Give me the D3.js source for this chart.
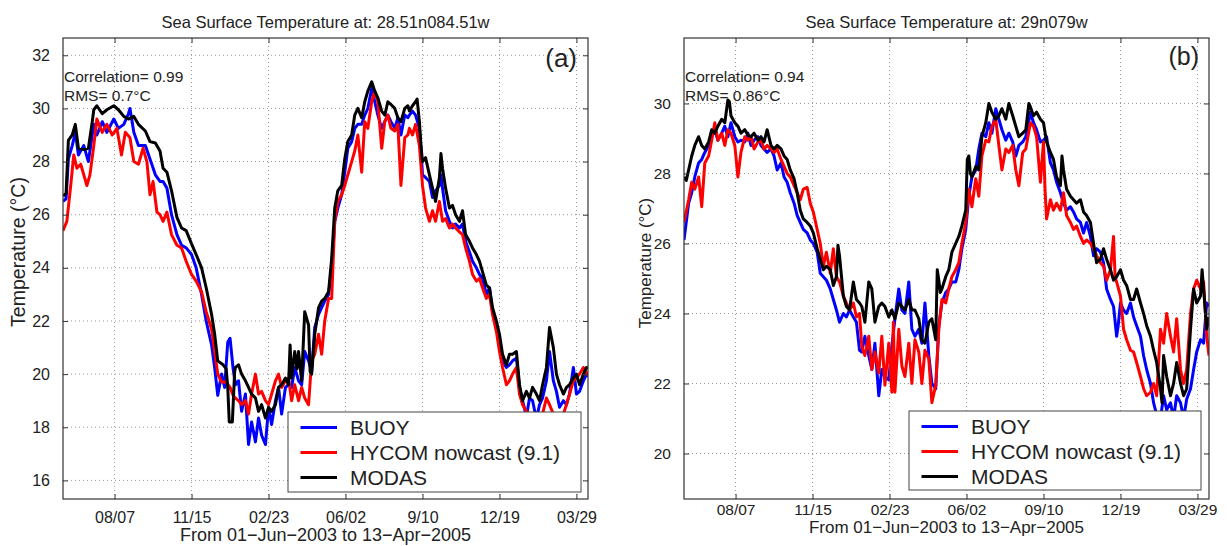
<!DOCTYPE html>
<html><head><meta charset="utf-8">
<script src="https://cdn.jsdelivr.net/npm/d3@7"></script>
<style>body{margin:0;background:#fff;} svg{display:block;font-family:"Liberation Sans",Arial,Helvetica,sans-serif;}</style>
</head><body><svg id="c" width="1227" height="546"></svg>
<script>
// ---- data (day offset from 01-Jun-2003, SST in degC) ----
const tickDays = [67, 167, 267, 367, 467, 567, 667];
const tickLabelsA = ["08/07", "11/15", "02/23", "06/02", "9/10", "12/19", "03/29"];
const tickLabelsB = ["08/07", "11/15", "02/23", "06/02", "09/10", "12/19", "03/29"];
const yTicksA = [16, 18, 20, 22, 24, 26, 28, 30, 32];
const yTicksB = [20, 22, 24, 26, 28, 30];
const seriesNames = ["BUOY", "HYCOM nowcast (9.1)", "MODAS"];
const seriesColors = ["#0000ff", "#ff0000", "#000000"];

const buoyA = [[0,26.5],[4,26.6],[7,28.1],[12,28.6],[16,29.1],[20,28.25],[27,28.6],[33,28.0],[40,29.4],[44,29.0],[51,29.5],[57,29.1],[66,29.6],[72,29.25],[79,29.4],[85,29.8],[87,30.0],[92,29.1],[98,28.6],[107,28.6],[113,28.1],[120,27.5],[126,27.25],[130,27.25],[135,27.0],[141,26.0],[148,25.25],[154,24.85],[160,24.75],[167,24.5],[173,24.0],[180,23.0],[186,22.0],[193,21.1],[197,20.25],[201,19.2],[206,20.0],[210,19.5],[214,21.2],[217,21.35],[221,20.2],
[224,19.6],[228,19.75],[232,18.6],[237,19.25],[241,17.35],[245,18.2],[250,17.45],[254,18.35],[258,17.7],[263,17.35],[267,18.75],[271,18.1],[276,19.0],[280,19.5],[284,18.5],[289,19.5],[293,19.6],[297,19.5],[301,20.25],[306,19.75],[310,19.6],[314,20.85],[319,20.5],[323,20.1],[327,21.75],[332,22.25],[336,22.5],[340,22.75],[345,23.0],[349,24.0],[353,25.75],[357,26.25],[362,26.75],[366,27.6],[370,28.5],[375,28.75],[379,29.25],[383,29.4],[388,29.4],[392,29.75],[396,30.0],[401,30.75],[405,30.25],[409,29.75],[414,29.25],[418,29.5],[422,29.75],[426,29.5],[431,29.25],[435,29.65],[439,29.0],[444,29.75],[448,29.65],
[450,29.75],[454,29.9],[458,29.75],[463,29.25],[465,28.5],[467,27.5],[471,27.4],[476,27.25],[480,26.65],[484,26.9],[489,27.1],[491,27.5],[493,27.0],[497,26.15],[502,25.75],[506,25.5],[510,25.65],[515,25.5],[519,25.65],[523,25.0],[528,24.6],[532,24.25],[537,24.0],[541,23.75],[545,23.6],[550,23.0],[554,23.25],[558,22.35],[563,21.75],[567,21.25],[571,20.5],[576,20.25],[580,20.35],[584,20.5],[589,20.6],[593,19.5],[597,19.0],[602,18.4],[606,19.1],[610,19.0],[615,18.3],[619,18.85],[623,19.1],[628,19.75],[632,20.85],[637,19.75],[641,19.35],[645,18.75],[650,19.0],[654,18.85],[658,19.25],[663,20.25],[667,19.25],[671,19.35],[676,19.75],[680,20.0],[682,19.9]];

const hycomA = [[0,25.4],[5,25.75],[10,27.1],[14,28.25],[18,27.75],[23,27.9],[27,27.5],[31,27.1],[35,27.5],[40,28.6],[44,29.6],[51,29.1],[57,29.4],[64,29.0],[70,29.25],[76,28.25],[81,29.1],[87,28.9],[92,28.0],[98,27.9],[104,28.5],[109,28.0],[113,26.75],[117,27.25],[122,26.1],[126,26.0],[130,25.75],[135,26.1],[141,25.25],[148,24.85],[154,24.75],[160,24.25],[167,23.75],[173,23.5],[180,23.1],[186,22.35],[193,21.7],[197,20.85],[201,20.0],[206,19.7],[212,19.7],[217,19.5],[221,19.2],
[224,19.1],[228,19.0],[232,18.85],[237,19.0],[241,18.5],[245,19.25],[250,20.0],[254,19.25],[258,19.35],[263,19.0],[267,18.85],[271,19.25],[276,19.75],[280,20.0],[284,19.5],[289,19.75],[293,19.85],[297,19.0],[301,19.6],[306,19.0],[310,19.5],[314,19.1],[319,18.85],[323,20.5],[327,20.75],[332,21.5],[336,20.75],[340,22.0],[345,22.85],[349,22.85],[353,25.75],[357,26.5],[362,26.75],[366,27.1],[370,27.5],[375,28.0],[379,28.4],[383,29.0],[388,27.6],[392,29.5],[396,29.25],[401,30.25],[405,30.65],[409,30.25],[414,28.5],[418,29.5],[422,29.75],[426,29.25],[431,29.15],[435,29.4],[439,27.1],[444,28.9],[448,29.0],
[450,29.25],[454,29.0],[458,29.4],[463,28.6],[467,27.1],[471,26.25],[476,25.75],[480,26.15],[484,25.75],[489,26.5],[493,25.75],[497,25.85],[502,25.5],[506,25.65],[510,25.5],[515,25.35],[519,25.25],[523,24.75],[528,24.25],[532,23.75],[537,23.5],[541,23.6],[545,23.25],[550,22.85],[554,23.0],[558,22.25],[563,21.6],[567,20.85],[571,20.25],[576,19.6],[580,19.75],[584,20.0],[589,20.25],[593,19.25],[597,18.85],[602,18.6],[606,18.5],[610,18.45],[615,18.5],[619,18.4],[623,18.5],[628,19.1],[632,18.85],[637,18.5],[641,18.4],[645,18.4],[650,18.5],[654,18.85],[658,19.25],[663,19.75],[667,19.85],[671,20.0],[676,20.25],[680,20.0],[682,20.1]];

const modasA = [[0,26.7],[4,26.8],[7,28.8],[12,29.0],[16,29.4],[20,28.5],[27,28.45],[33,28.5],[38,29.5],[40,29.95],[44,30.1],[51,29.8],[57,29.95],[66,30.1],[72,29.95],[79,29.7],[85,29.6],[92,29.7],[98,29.4],[107,29.15],[113,28.75],[120,28.7],[126,28.4],[130,27.75],[135,27.6],[141,26.9],[148,25.9],[154,25.5],[160,25.4],[167,24.9],[173,24.5],[180,24.0],[186,23.25],[193,22.25],[197,21.5],[201,20.5],[208,20.35],[212,20.2],[214,19.5],[216,18.2],[220,18.2],[223,20.1],
[224,20.25],[228,20.35],[232,20.0],[237,19.75],[241,19.5],[245,19.25],[250,19.1],[254,18.6],[258,18.85],[263,18.35],[267,18.75],[271,18.6],[276,18.85],[280,19.5],[284,19.6],[289,19.85],[293,19.6],[295,21.1],[297,19.85],[301,20.85],[304,20.2],[306,20.85],[310,19.75],[314,22.35],[319,21.85],[321,20.1],[323,20.0],[327,21.5],[332,22.5],[336,22.75],[340,22.85],[345,23.1],[349,24.35],[353,26.25],[357,26.9],[362,27.1],[366,28.1],[370,28.75],[375,29.0],[379,29.75],[383,30.0],[388,29.65],[392,30.25],[396,30.65],[401,31.0],[405,30.65],[409,30.4],[414,29.9],[418,29.75],[422,30.25],[426,30.15],[431,30.0],[435,29.65],[439,29.5],[444,30.0],[448,30.1],
[450,29.9],[454,30.1],[458,30.25],[460,30.35],[463,29.5],[465,28.6],[467,28.0],[471,28.15],[476,27.5],[480,27.0],[484,26.5],[489,27.4],[491,28.3],[493,27.75],[497,27.0],[502,26.25],[506,26.35],[510,26.0],[515,25.75],[519,26.15],[523,25.25],[528,25.0],[532,24.75],[537,24.5],[541,24.25],[545,23.85],[550,23.35],[554,23.25],[558,22.5],[563,22.0],[567,21.5],[571,20.75],[576,20.35],[580,20.75],[584,20.75],[589,20.85],[593,19.6],[597,19.0],[602,19.35],[606,19.1],[610,19.5],[615,19.25],[619,19.0],[623,19.6],[628,20.25],[632,21.75],[637,21.0],[641,20.0],[645,19.6],[650,19.25],[654,19.5],[658,19.6],[663,19.85],[667,20.0],[671,19.6],[676,20.0],[680,20.25],[682,20.2]];

const buoyB = [[0,26.1],[6,27.15],[10,27.45],[14,27.9],[19,28.3],[23,28.4],[27,28.6],[32,28.8],[36,29.05],[40,29.25],[44,28.95],[49,29.15],[53,29.35],[57,29.05],[61,29.45],[66,29.05],[70,28.9],[74,28.95],[79,28.9],[83,29.15],[87,28.8],[91,28.95],[96,29.05],[100,28.8],[104,28.7],[108,28.6],[113,28.7],[117,28.5],[121,28.1],[126,28.3],[130,27.9],[134,27.75],[138,27.45],[143,27.15],[147,26.8],[151,26.6],[155,26.4],[160,26.3],[164,26.1],[168,26.0],[173,25.75],[177,25.15],[181,25.05],[185,24.95],[190,24.7],[194,24.4],[198,24.1],[202,23.75],[207,24.0],[211,23.9],[215,24.1],[220,23.9],[224,23.75],[228,22.95],
[231,22.9],[235,23.35],[240,22.8],[244,22.4],[248,23.15],[253,21.65],[257,22.4],[261,22.2],[266,22.1],[270,23.05],[274,23.85],[279,24.7],[283,24.1],[287,24.0],[292,24.9],[296,23.55],[300,23.35],[305,23.55],[309,23.15],[313,24.3],[318,22.8],[322,22.0],[327,21.85],[331,23.65],[335,24.3],[340,24.6],[344,24.7],[348,24.9],[353,24.9],[357,25.25],[361,25.85],[366,26.4],[370,27.35],[374,27.9],[379,28.1],[383,28.7],[387,29.15],[392,29.05],[396,29.45],[400,29.15],[405,29.85],[409,29.55],[413,29.25],[418,28.95],[422,29.15],[427,28.9],[431,28.5],[435,28.8],[440,28.9],[444,29.05],
[450,29.75],[454,29.45],[458,29.25],[463,28.9],[467,28.95],[471,29.05],[476,28.3],[480,28.1],[484,27.75],[489,27.45],[493,27.15],[497,26.95],[502,27.05],[506,26.9],[510,26.7],[515,26.6],[519,26.3],[523,26.6],[528,26.2],[532,25.65],[536,25.85],[541,25.75],[545,25.45],[549,24.7],[554,24.4],[558,24.2],[562,23.35],[564,23.65],[567,24.3],[571,24.1],[575,24.0],[580,24.3],[584,23.9],[588,23.65],[593,23.35],[597,22.8],[601,22.4],[606,22.0],[610,21.45],[614,21.1],[619,21.0],[623,21.65],[627,21.25],[632,21.45],[636,21.0],[640,21.65],[645,21.45],[649,21.0],[653,21.55],[658,21.85],[662,22.4],[666,22.9],[671,23.25],[675,23.15],[679,24.3],[682,24.2]];

const hycomB = [[0,26.6],[6,27.25],[10,27.75],[14,27.55],[19,27.9],[23,27.05],[27,28.3],[32,28.5],[36,28.95],[40,29.45],[44,28.95],[49,29.15],[53,28.8],[57,29.25],[61,29.15],[66,28.8],[70,27.9],[74,28.6],[79,29.05],[83,28.95],[87,29.05],[91,28.7],[96,28.9],[100,28.95],[104,28.7],[108,28.8],[113,28.7],[117,28.6],[121,28.7],[126,28.4],[130,28.2],[134,28.0],[138,27.9],[143,27.65],[147,27.45],[151,27.25],[155,27.55],[160,27.6],[164,27.15],[168,26.9],[173,26.4],[177,26.0],[181,25.35],[185,25.75],[190,25.15],[194,25.85],[198,25.05],[202,24.9],[207,24.5],[211,24.3],[215,24.1],[220,24.3],[224,23.9],[228,24.0],
[231,23.05],[235,22.8],[240,23.35],[244,22.4],[248,22.9],[253,22.3],[257,23.35],[261,21.95],[266,23.15],[270,21.75],[272,23.75],[274,21.75],[279,23.55],[283,22.5],[287,22.2],[292,23.15],[296,22.0],[300,23.25],[305,22.9],[309,22.0],[313,22.95],[318,22.7],[322,21.45],[327,21.95],[331,23.55],[335,24.4],[340,24.3],[344,24.7],[348,25.05],[353,25.25],[357,25.45],[361,26.0],[366,26.6],[370,27.55],[374,27.05],[379,27.85],[383,27.35],[387,28.5],[392,28.95],[396,28.9],[400,29.35],[405,29.55],[409,28.8],[413,28.1],[418,28.7],[422,28.6],[427,28.8],[431,28.1],[435,27.65],[440,28.6],[444,28.7],
[450,29.45],[454,29.35],[458,29.05],[463,27.75],[467,28.9],[469,27.55],[471,26.7],[476,27.25],[480,26.95],[484,27.15],[489,26.95],[493,27.45],[497,26.8],[502,26.6],[506,26.4],[510,26.5],[515,26.2],[519,26.0],[523,26.1],[528,26.0],[532,25.85],[536,25.65],[541,25.45],[545,25.35],[549,24.95],[554,25.25],[558,26.2],[560,25.05],[562,24.9],[567,24.5],[571,23.55],[575,23.25],[580,22.95],[584,22.9],[588,22.6],[593,22.2],[597,21.85],[601,21.65],[606,21.75],[610,22.0],[614,21.65],[619,23.55],[623,23.15],[627,24.0],[632,23.35],[636,22.9],[640,23.85],[645,22.4],[649,22.0],[653,22.4],[658,24.0],[662,24.7],[666,24.95],[671,24.7],[675,24.9],[679,23.35],[682,22.8]];

const modasB = [[0,27.9],[3,27.8],[6,28.1],[10,28.5],[14,28.8],[19,29.05],[23,28.8],[27,28.7],[32,28.9],[36,29.25],[40,29.15],[44,29.35],[49,29.55],[53,29.45],[57,30.1],[59,30.05],[61,29.65],[66,29.45],[70,29.35],[74,29.15],[79,29.25],[83,29.1],[87,29.05],[91,29.15],[96,28.95],[100,29.05],[104,28.9],[108,29.25],[113,28.8],[117,28.7],[121,28.8],[126,28.7],[130,28.5],[134,28.4],[138,28.1],[143,27.85],[147,27.45],[151,26.95],[155,26.7],[160,26.6],[164,26.5],[168,26.3],[173,25.85],[177,25.55],[181,25.25],[185,25.35],[190,25.25],[194,24.8],[198,25.05],[200,25.95],[202,25.65],[207,24.5],[211,24.2],[215,24.1],[220,24.9],[224,24.4],[228,24.3],
[231,24.2],[235,23.75],[240,24.9],[244,24.7],[248,23.75],[253,24.2],[257,24.3],[261,24.2],[266,23.9],[270,24.1],[274,23.85],[279,24.3],[283,24.2],[287,24.1],[292,24.4],[296,24.1],[300,24.1],[305,23.85],[309,23.25],[313,23.15],[318,23.75],[322,23.85],[327,23.25],[329,25.25],[331,24.95],[333,24.6],[335,24.7],[340,25.05],[344,25.25],[348,25.75],[353,26.0],[357,26.2],[361,26.5],[366,26.95],[368,28.4],[370,28.5],[372,28.0],[374,27.9],[379,28.2],[383,28.1],[387,29.05],[392,29.45],[396,30.0],[400,29.75],[405,29.55],[409,29.65],[413,29.85],[418,29.55],[422,30.0],[427,29.65],[431,29.35],[435,29.05],[440,29.15],[444,29.25],[448,30.0],
[450,29.9],[454,29.65],[458,29.75],[463,29.55],[467,29.45],[471,28.9],[476,28.6],[480,28.4],[484,27.9],[489,27.65],[491,28.5],[493,28.1],[497,27.55],[502,27.35],[506,27.25],[510,27.15],[515,27.25],[519,26.9],[523,26.8],[528,26.6],[532,26.0],[536,25.45],[541,25.55],[545,25.85],[549,25.55],[554,25.25],[558,24.95],[562,25.05],[567,25.25],[571,24.95],[575,24.8],[580,24.4],[584,24.4],[588,24.7],[593,24.3],[597,24.0],[601,23.65],[606,23.35],[610,22.95],[614,22.6],[619,21.85],[621,21.45],[623,22.8],[627,22.2],[632,21.65],[636,22.0],[640,22.6],[645,22.0],[649,21.65],[653,21.85],[658,23.55],[662,24.7],[666,24.3],[671,24.5],[673,25.25],[675,24.7],[679,23.55],[682,23.9]];

// ---- drawing ----
const svg = d3.select("#c");
svg.append("rect").attr("width",1227).attr("height",546).attr("fill","#fff");

const panels = [
  {id:"a", x0:63, x1:588, y0:38, y1:499, yDomain:[15.3,32.65], yTicks:yTicksA, xLabels:tickLabelsA,
   series:[buoyA,hycomA,modasA], title:"Sea Surface Temperature at: 28.51n084.51w",
   corr:"Correlation= 0.99", rms:"RMS= 0.7°C", tag:"(a)", tagX:577, tagY:67, tagSize:26,
   tickSize:16, xTickY:523, xLab:541, xLabSize:18, yLabX:25, yLabY:252, yLabSize:19.5,
   leg:{x:288, y:412, w:293, h:80}},
  {id:"b", x0:684, x1:1209, y0:38, y1:499, yDomain:[18.7,31.87], yTicks:yTicksB, xLabels:tickLabelsB,
   series:[buoyB,hycomB,modasB], title:"Sea Surface Temperature at: 29n079w",
   corr:"Correlation= 0.94", rms:"RMS= 0.86°C", tag:"(b)", tagX:1199, tagY:65, tagSize:25,
   tickSize:15.5, xTickY:515, xLab:533, xLabSize:17, yLabX:651, yLabY:263, yLabSize:17,
   leg:{x:909, y:411, w:292, h:79}}
];

panels.forEach(p => {
  const x = d3.scaleLinear().domain([0, 682]).range([p.x0, p.x1]);
  const y = d3.scaleLinear().domain(p.yDomain).range([p.y1, p.y0]);
  const g = svg.append("g");

  // grid
  const grid = g.append("g").attr("stroke", "#9a9a9a").attr("stroke-width", 1).attr("stroke-dasharray", "1,3");
  tickDays.forEach(d => grid.append("line").attr("x1", x(d)).attr("x2", x(d)).attr("y1", p.y0).attr("y2", p.y1));
  p.yTicks.forEach(v => grid.append("line").attr("x1", p.x0).attr("x2", p.x1).attr("y1", y(v)).attr("y2", y(v)));

  // clip
  g.append("clipPath").attr("id", "clip" + p.id).append("rect")
    .attr("x", p.x0).attr("y", p.y0).attr("width", p.x1 - p.x0).attr("height", p.y1 - p.y0);
  const line = d3.line().x(d => x(d[0])).y(d => y(d[1]));
  const lines = g.append("g").attr("clip-path", "url(#clip" + p.id + ")");
  p.series.forEach((s, i) => {
    lines.append("path").datum(s).attr("d", line).attr("fill", "none")
      .attr("stroke", seriesColors[i]).attr("stroke-width", 3).attr("stroke-linejoin", "round");
  });

  // axes with inward ticks
  const tl = 5;
  const xb = d3.axisBottom(x).tickValues(tickDays).tickSizeInner(-tl).tickSizeOuter(0)
    .tickFormat((d, i) => p.xLabels[i]).tickPadding(0);
  const xAx = g.append("g").attr("transform", `translate(0,${p.y1})`).call(xb);
  xAx.select(".domain").remove();
  xAx.selectAll("line").attr("stroke", "#333");
  xAx.selectAll("text").attr("y", null).attr("dy", null).attr("transform", null)
    .attr("y", p.xTickY - p.y1).attr("font-size", p.tickSize).attr("fill", "#222")
    .attr("font-family", '"Liberation Sans",Arial,sans-serif');
  const xt = d3.axisTop(x).tickValues(tickDays).tickSizeInner(-tl).tickSizeOuter(0).tickFormat("");
  const xtAx = g.append("g").attr("transform", `translate(0,${p.y0})`).call(xt);
  xtAx.select(".domain").remove(); xtAx.selectAll("line").attr("stroke", "#333");

  const yl = d3.axisLeft(y).tickValues(p.yTicks).tickSizeInner(-tl).tickSizeOuter(0).tickPadding(8 + tl)
    .tickFormat(d3.format("d"));
  const yAx = g.append("g").attr("transform", `translate(${p.x0},0)`).call(yl);
  yAx.select(".domain").remove(); yAx.selectAll("line").attr("stroke", "#333");
  yAx.selectAll("text").attr("font-size", p.tickSize).attr("fill", "#222")
    .attr("font-family", '"Liberation Sans",Arial,sans-serif');
  const yr = d3.axisRight(y).tickValues(p.yTicks).tickSizeInner(-tl).tickSizeOuter(0).tickFormat("");
  const yrAx = g.append("g").attr("transform", `translate(${p.x1},0)`).call(yr);
  yrAx.select(".domain").remove(); yrAx.selectAll("line").attr("stroke", "#333");

  // frame
  g.append("rect").attr("x", p.x0).attr("y", p.y0).attr("width", p.x1 - p.x0).attr("height", p.y1 - p.y0)
    .attr("fill", "none").attr("stroke", "#333").attr("stroke-width", 1.2);

  // title and labels
  g.append("text").attr("x", (p.x0 + p.x1) / 2).attr("y", 28).attr("text-anchor", "middle")
    .attr("font-size", 16.5).attr("fill", "#222").text(p.title);
  g.append("text").attr("x", (p.x0 + p.x1) / 2).attr("y", p.xLab).attr("text-anchor", "middle")
    .attr("font-size", p.xLabSize).attr("fill", "#222").text("From 01\u2212Jun\u22122003 to 13\u2212Apr\u22122005");
  g.append("text").attr("transform", `translate(${p.yLabX},${p.yLabY}) rotate(-90)`).attr("text-anchor", "middle")
    .attr("font-size", p.yLabSize).attr("fill", "#222").text("Temperature (°C)");
  g.append("text").attr("x", p.x0 + 1).attr("y", 82).attr("font-size", 15.5).attr("fill", "#222").text(p.corr);
  g.append("text").attr("x", p.x0 + 1).attr("y", 101).attr("font-size", 15.5).attr("fill", "#222").text(p.rms);
  g.append("text").attr("x", p.tagX).attr("y", p.tagY).attr("text-anchor", "end")
    .attr("font-size", p.tagSize).attr("fill", "#222").text(p.tag);

  // legend
  const L = p.leg;
  const lg = g.append("g");
  lg.append("rect").attr("x", L.x).attr("y", L.y).attr("width", L.w).attr("height", L.h)
    .attr("fill", "#fff").attr("stroke", "#444").attr("stroke-width", 1);
  seriesNames.forEach((n, i) => {
    const ry = L.y + 15.5 + i * 25;
    lg.append("line").attr("x1", L.x + 12.5).attr("x2", L.x + 49).attr("y1", ry).attr("y2", ry)
      .attr("stroke", seriesColors[i]).attr("stroke-width", 3);
    lg.append("text").attr("x", L.x + 62).attr("y", ry + 7.5).attr("font-size", 21).attr("fill", "#222").text(n);
  });
});
</script></body></html>
